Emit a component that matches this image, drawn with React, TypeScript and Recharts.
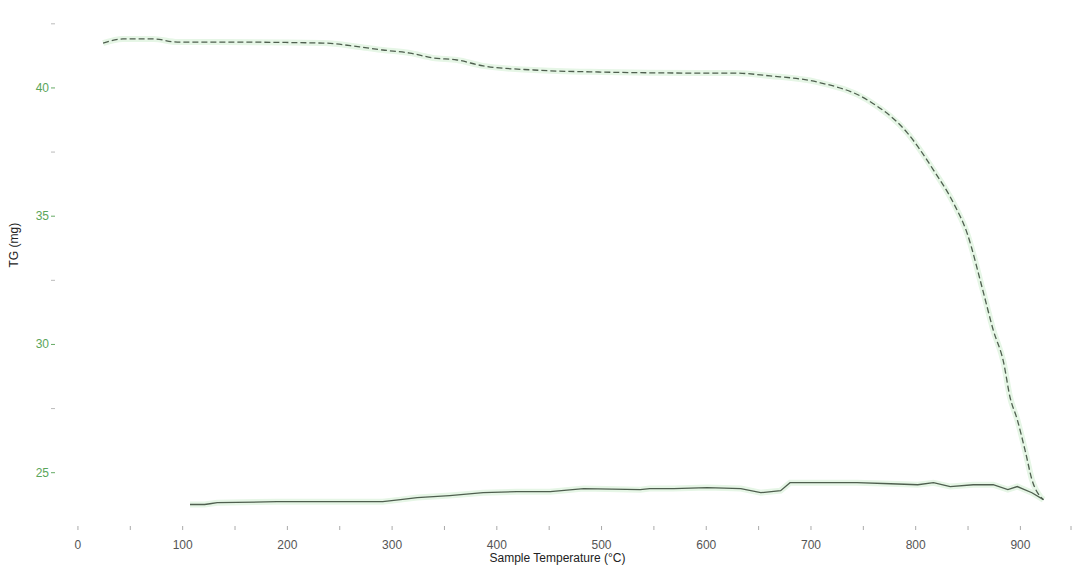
import React from "react"
import { LineChart, Line, XAxis, YAxis } from "recharts"

// heating segment: sample temperature (°C) vs TG (mg)
const heatTemp = [24, 43, 72, 95, 133, 234, 269, 291, 317, 339, 362, 387, 435, 499, 594, 626, 661, 706, 754, 792, 817, 836, 849, 864, 874, 884, 890, 897, 905, 911, 919, 922]
const heatMass = [41.75, 41.91, 41.91, 41.79, 41.79, 41.75, 41.6, 41.48, 41.36, 41.17, 41.09, 40.86, 40.7, 40.62, 40.58, 40.58, 40.47, 40.23, 39.53, 38.25, 36.8, 35.52, 34.35, 32.13, 30.57, 29.29, 27.96, 27.07, 25.78, 24.73, 24.07, 23.95]

// cooling segment
const coolTemp = [922, 911, 897, 888, 874, 855, 833, 817, 802, 776, 744, 709, 680, 671, 652, 633, 601, 569, 546, 537, 483, 451, 419, 387, 355, 324, 308, 291, 253, 228, 212, 190, 133, 126, 121, 107]
const coolMass = [23.95, 24.22, 24.46, 24.34, 24.53, 24.53, 24.46, 24.61, 24.53, 24.57, 24.61, 24.61, 24.61, 24.3, 24.22, 24.38, 24.42, 24.38, 24.38, 24.34, 24.38, 24.26, 24.26, 24.22, 24.11, 24.03, 23.95, 23.87, 23.87, 23.87, 23.87, 23.87, 23.83, 23.79, 23.76, 23.76]

const xTicks = [0, 50, 100, 150, 200, 250, 300, 350, 400, 450, 500, 550, 600, 650, 700, 750, 800, 850, 900, 950]
const yTicks = [25, 27.5, 30, 32.5, 35, 37.5, 40, 42.5]

const heatData = heatTemp.map((t, i) => ({ t, mg: heatMass[i] }))
const coolData = coolTemp.map((t, i) => ({ t, mg: coolMass[i] }))

const FONT = "'Liberation Sans', Arial, sans-serif"
const LINE = "#4f5f4f"

function XTick(props: any) {
  const { x, y, payload } = props
  const major = payload.value % 100 === 0
  return (
    <g>
      <line x1={x} x2={x} y1={y + 2} y2={y + 6} stroke="#aaa" strokeWidth={1} />
      {major && (
        <text x={x} y={y + 25} textAnchor="middle" fontSize={12} fill="#555" fontFamily={FONT}>
          {payload.value}
        </text>
      )}
    </g>
  )
}

function YTick(props: any) {
  const { x, y, payload } = props
  const major = payload.value % 5 === 0
  return (
    <g>
      <line x1={x - 6} x2={x - 2} y1={y} y2={y} stroke={major ? "#6a6" : "#bbb"} strokeWidth={1} />
      {major && (
        <text x={x - 8} y={y + 4} textAnchor="end" fontSize={12} fill="#5aa55a" fontFamily={FONT}>
          {payload.value}
        </text>
      )}
    </g>
  )
}

export default function App() {
  return (
    <div style={{ position: "absolute", left: 0, top: 0, width: 1083, height: 573, background: "#fff" }}>
      <LineChart width={1083} height={573} margin={{ top: 11, right: 5, bottom: 9, left: 0 }}>
        <XAxis
          type="number"
          dataKey="t"
          domain={[-20, 955]}
          ticks={xTicks}
          allowDataOverflow
          axisLine={false}
          tickLine={false}
          tickSize={0}
          tickMargin={0}
          height={40}
          tick={<XTick />}
          label={{ value: "Sample Temperature (°C)", position: "insideBottom", offset: 2, dx: -10, fontSize: 12, fill: "#222", fontFamily: FONT }}
        />
        <YAxis
          type="number"
          dataKey="mg"
          domain={[23, 43]}
          ticks={yTicks}
          allowDataOverflow
          axisLine={false}
          tickLine={false}
          tickSize={0}
          tickMargin={0}
          width={57}
          tick={<YTick />}
          label={{ value: "TG (mg)", angle: -90, position: "insideLeft", offset: 14, fontSize: 12, fill: "#222", fontFamily: FONT }}
        />
        <Line data={heatData} dataKey="mg" type="monotone" stroke="#e6f6e6" strokeWidth={6} dot={false} isAnimationActive={false} />
        <Line data={coolData} dataKey="mg" type="linear" stroke="#e6f6e6" strokeWidth={6} dot={false} isAnimationActive={false} />
        <Line data={heatData} dataKey="mg" type="monotone" stroke={LINE} strokeWidth={1.3} strokeDasharray="6 3" dot={false} isAnimationActive={false} />
        <Line data={coolData} dataKey="mg" type="linear" stroke={LINE} strokeWidth={1.3} dot={false} isAnimationActive={false} />
      </LineChart>
    </div>
  )
}
